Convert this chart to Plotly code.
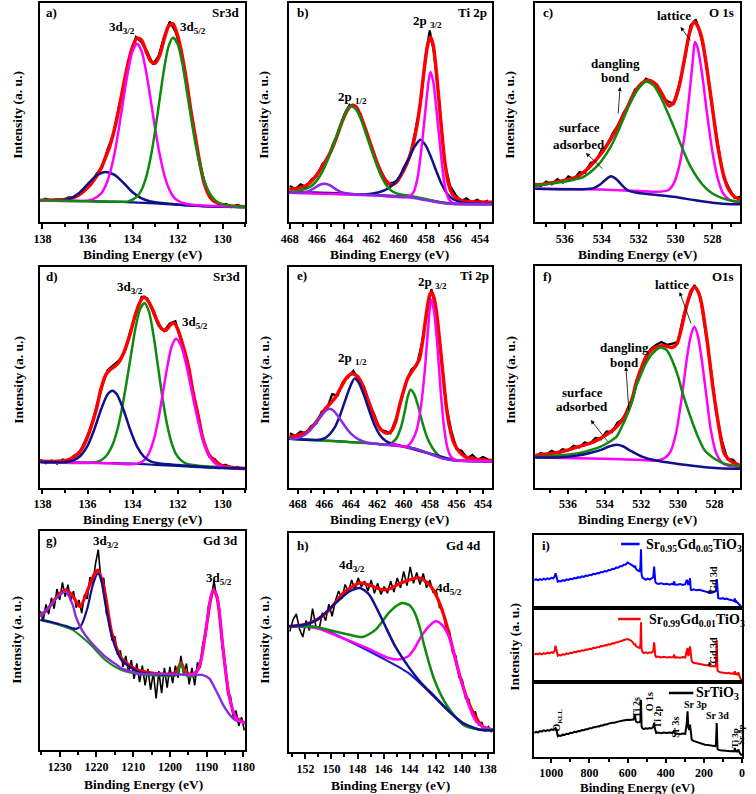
import plotly.graph_objects as go

W, H = 756, 794
FONT = "Liberation Serif"
RED = "#ff0000"; BLK = "#000000"; MAG = "#ff00ff"; GRN = "#0f8a0f"
NAV = "#10108c"; PUR = "#8a2be2"; BLU = "#0000ff"; BGB = "#1c1cd0"

# ---------------- panel a : Sr 3d (SrTiO3) ----------------
a_bg_x = [138.1, 137, 136, 135, 134, 133, 132, 131, 130, 129]
a_bg_y = [9.9, 9.8, 9.6, 9.3, 9.0, 8.5, 7.9, 7.3, 7.0, 6.8]
a_nav_x = [138.1, 137.2, 136.8, 136.4, 136.0, 135.6, 135.2, 134.8, 134.4, 134.0, 133.6, 133.2, 132.6, 131.0, 129.0]
a_nav_y = [9.9, 9.9, 10.6, 13.0, 17.2, 21.2, 22.8, 21.5, 17.8, 13.6, 10.8, 9.4, 8.6, 7.3, 6.8]
a_mag_x = [138.1, 136.2, 135.8, 135.4, 135.2, 135.0, 134.8, 134.6, 134.4, 134.2, 134.0, 133.8, 133.6,
           133.4, 133.2, 133.0, 132.8, 132.6, 132.4, 132.2, 132.0, 131.6, 131.0, 130.0, 129.0]
a_mag_y = [9.8, 9.6, 10.2, 13.0, 16.5, 22.5, 31.4, 43.2, 56.4, 68.9, 78.1, 81.4, 78.0,
           68.7, 56.1, 42.7, 31.0, 21.8, 15.5, 11.7, 9.8, 8.2, 7.6, 7.2, 7.0]
a_grn_x = [138.1, 134.6, 134.2, 133.8, 133.6, 133.4, 133.2, 133.0, 132.8, 132.6, 132.4, 132.2,
           132.0, 131.8, 131.6, 131.4, 131.2, 131.0, 130.8, 130.6, 130.4, 130.2, 129.8, 129.0]
a_grn_y = [9.9, 9.2, 9.4, 11.6, 14.7, 20.4, 29.3, 41.6, 56.0, 70.0, 80.3, 84.2,
           81.3, 72.9, 60.4, 47.4, 35.3, 25.5, 18.3, 13.5, 10.6, 8.9, 7.6, 7.0]
a_red_x = [138.1, 137.5, 137.0, 136.6, 136.2, 135.8, 135.4, 135.2, 135.0, 134.8, 134.6, 134.4,
           134.2, 134.0, 133.8, 133.6, 133.4, 133.2, 133.0, 132.8, 132.6, 132.4, 132.2, 132.0,
           131.8, 131.6, 131.4, 131.2, 131.0, 130.8, 130.6, 130.4, 130.0, 129.5, 129.0]
a_red_y = [9.9, 10.0, 10.3, 11.2, 13.8, 18.0, 24.5, 29.5, 35.0, 42.5, 52.0, 62.5,
           72.5, 80.0, 84.0, 83.0, 78.0, 73.5, 72.5, 76.0, 83.5, 89.5, 90.5, 85.0,
           76.0, 64.0, 50.0, 38.0, 26.0, 17.0, 12.0, 9.5, 7.8, 7.2, 7.0]
a_blk_x = [138.1, 137.85, 137.6, 137.35, 137.1, 136.85, 136.6, 136.35, 136.1, 135.85,
           135.6, 135.35, 135.1, 134.85, 134.6, 134.35, 134.1, 133.85, 133.6, 133.35,
           133.1, 132.85, 132.6, 132.35, 132.1, 131.85, 131.6, 131.35, 131.1, 130.85,
           130.6, 130.35, 130.1, 129.85, 129.6, 129.35, 129.1]
a_blk_y = [9.5, 10.6, 9.8, 10.4, 9.7, 11.2, 11.0, 12.9, 15.8, 17.0,
           22.0, 25.0, 33.5, 40.0, 53.0, 64.2, 77.0, 84.5, 82.0, 77.8,
           72.0, 75.8, 84.5, 91.5, 87.0, 79.0, 63.0, 48.0, 31.0, 20.0,
           11.5, 10.0, 7.5, 8.3, 6.8, 7.8, 6.9]

# ---------------- panel b : Ti 2p (SrTiO3) ----------------
b_bg_x = [468.05, 466, 464, 462, 460, 459, 458, 457, 456, 454, 453.1]
b_bg_y = [13.6, 13.3, 12.9, 12.4, 11.8, 11.4, 10.4, 9.2, 8.5, 8.3, 8.3]
b_pur_x = [468.05, 467.2, 466.6, 466.2, 465.8, 465.4, 465.0, 464.6, 464.2, 463.6, 462.0, 460.0,
           459.0, 458.0, 457.0, 456.0, 454.0, 453.1]
b_pur_y = [13.3, 13.4, 14.1, 15.5, 17.0, 17.5, 16.6, 14.9, 13.6, 12.9, 12.3, 11.6,
           11.1, 10.0, 8.9, 8.2, 8.0, 8.0]
b_grn_x = [468.05, 467.0, 466.4, 466.0, 465.6, 465.2, 464.8, 464.4, 464.0, 463.7, 463.5, 463.2,
           462.8, 462.4, 462.0, 461.6, 461.2, 460.8, 460.4, 460.0, 459.0, 458.0, 457.0, 456.0, 453.1]
b_grn_y = [13.6, 14.8, 16.5, 19.0, 23.0, 28.5, 35.0, 42.0, 48.5, 52.0, 52.8, 52.0,
           47.5, 40.5, 33.0, 26.0, 20.0, 16.0, 13.8, 12.8, 11.8, 10.5, 9.0, 8.3, 8.2]
b_nav_x = [468.05, 465.0, 462.5, 461.5, 461.0, 460.5, 460.0, 459.6, 459.2, 458.8, 458.4,
           458.0, 457.6, 457.2, 456.8, 456.4, 456.0, 455.5, 455.0, 454.0, 453.1]
b_nav_y = [13.6, 13.2, 12.6, 13.5, 14.5, 16.5, 20.0, 24.5, 29.5, 34.5, 37.6,
           35.0, 29.5, 23.0, 17.0, 12.8, 10.5, 9.2, 8.7, 8.4, 8.3]
b_mag_x = [468.05, 462.0, 459.6, 459.2, 458.9, 458.6, 458.3, 458.0, 457.8, 457.65, 457.45,
           457.2, 456.9, 456.6, 456.3, 456.0, 455.5, 453.1]
b_mag_y = [13.4, 12.2, 11.3, 11.8, 13.5, 20.0, 34.0, 52.0, 63.5, 68.5, 64.5,
           51.0, 32.5, 17.0, 10.5, 8.7, 8.3, 8.2]
b_red_x = [468.05, 467.5, 467.0, 466.6, 466.2, 465.8, 465.4, 465.0, 464.6, 464.2,
           463.9, 463.6, 463.4, 463.1, 462.8, 462.4, 462.0, 461.6, 461.2, 460.8,
           460.5, 460.2, 459.8, 459.4, 459.0, 458.7, 458.4, 458.1, 457.85, 457.65,
           457.45, 457.2, 456.9, 456.6, 456.3, 456.0, 455.5, 455.0, 454.0, 453.1]
b_red_y = [15.0, 15.3, 16.0, 17.5, 20.0, 23.5, 27.5, 32.0, 38.0, 45.0,
           49.5, 52.5, 53.3, 52.5, 48.5, 42.0, 34.5, 27.5, 21.5, 18.0,
           17.0, 17.8, 21.5, 26.5, 33.5, 42.0, 54.0, 70.0, 81.0, 84.5,
           81.0, 68.0, 47.0, 28.0, 17.0, 12.5, 10.2, 9.4, 9.1, 9.0]
b_blk_x = [468.0, 467.6, 467.2, 466.8, 466.4, 466.0, 465.6, 465.2, 464.8, 464.4,
           464.0, 463.6, 463.2, 462.8, 462.4, 462.0, 461.6, 461.2, 460.8, 460.4,
           460.0, 459.6, 459.2, 458.8, 458.4, 458.0, 457.7, 457.4, 457.0, 456.6,
           456.2, 455.8, 455.4, 455.0, 454.6, 454.2, 453.8, 453.4]
b_blk_y = [16.5, 15.0, 17.2, 16.0, 19.5, 21.0, 26.5, 29.0, 36.0, 41.0,
           49.0, 53.5, 52.0, 49.5, 41.0, 35.0, 27.0, 22.5, 17.5, 18.0,
           19.0, 25.0, 29.0, 40.5, 53.0, 76.0, 87.5, 78.0, 55.0, 27.0,
           16.5, 12.5, 9.5, 10.8, 9.0, 10.2, 8.8, 9.8]

# ---------------- panel c : O 1s (SrTiO3) ----------------
c_nav_x = [537.64, 535.0, 534.4, 534.1, 533.8, 533.5, 533.2, 532.9, 532.6, 532.0, 531.0, 530.0,
           529.0, 528.0, 527.0, 526.44]
c_nav_y = [15.2, 15.0, 15.6, 17.0, 19.2, 20.9, 19.5, 16.8, 14.5, 13.2, 12.3, 11.4,
           10.0, 8.8, 8.1, 8.1]
c_mag_x = [537.64, 534.0, 532.0, 531.0, 530.4, 530.1, 529.8, 529.5, 529.25, 529.05, 528.95,
           528.8, 528.55, 528.3, 528.0, 527.7, 527.4, 527.0, 526.44]
c_mag_y = [15.2, 14.8, 14.2, 13.8, 14.5, 17.5, 25.5, 40.0, 58.0, 75.0, 82.2,
           79.5, 67.0, 50.0, 32.0, 19.5, 12.8, 9.8, 9.1]
c_grn_x = [537.64, 536.5, 535.5, 535.0, 534.5, 534.0, 533.5, 533.0, 532.5, 532.0, 531.6, 531.2,
           530.8, 530.4, 530.0, 529.6, 529.2, 528.8, 528.4, 528.0, 527.5, 527.0, 526.44]
c_grn_y = [16.5, 17.8, 19.3, 20.5, 23.5, 28.0, 34.5, 43.5, 53.5, 61.0, 64.2, 62.5,
           57.0, 49.5, 41.5, 33.0, 25.5, 20.0, 15.8, 13.0, 11.0, 9.8, 9.1]
c_red_x = [537.64, 537.0, 536.0, 535.3, 534.8, 534.4, 534.0, 533.5, 533.0, 532.6,
           532.2, 531.8, 531.5, 531.2, 530.9, 530.6, 530.35, 530.1, 529.8, 529.5,
           529.25, 529.0, 528.8, 528.55, 528.3, 528.0, 527.7, 527.4, 527.1, 526.8, 526.44]
c_red_y = [16.7, 17.5, 19.0, 20.7, 24.0, 27.5, 31.5, 38.0, 45.5, 52.5,
           59.5, 63.5, 64.7, 63.8, 61.0, 56.5, 53.0, 54.5, 62.0, 75.0,
           86.0, 91.3, 89.5, 83.0, 70.0, 52.0, 34.0, 21.5, 14.5, 11.5, 10.2]
c_blk_x = [537.6, 537.3, 537.0, 536.7, 536.4, 536.1, 535.8, 535.5, 535.2, 534.9,
           534.6, 534.3, 534.0, 533.7, 533.4, 533.1, 532.8, 532.5, 532.2, 531.9,
           531.6, 531.3, 531.0, 530.7, 530.4, 530.1, 529.8, 529.5, 529.2, 528.9,
           528.6, 528.3, 528.0, 527.7, 527.4, 527.1, 526.8, 526.5]
c_blk_y = [17.5, 16.3, 18.5, 17.2, 19.6, 18.0, 20.8, 19.5, 22.8, 22.5,
           27.0, 28.0, 33.0, 35.0, 40.5, 44.5, 50.0, 54.0, 60.5, 62.0,
           65.5, 64.0, 62.8, 57.0, 55.0, 54.0, 63.0, 74.0, 89.5, 92.5,
           84.0, 71.0, 51.0, 35.5, 20.5, 15.5, 11.0, 11.5]

# ---------------- panel d : Sr 3d (Gd doped) ----------------
d_bg_x = [138.1, 136, 134, 133, 132, 131, 129]
d_bg_y = [11.8, 11.5, 11.0, 10.5, 10.0, 9.4, 8.8]
d_nav_x = [138.1, 137.0, 136.6, 136.3, 136.0, 135.7, 135.4, 135.1, 134.9, 134.7,
           134.4, 134.1, 133.8, 133.5, 133.2, 132.8, 132.0, 131.0, 130.0, 129.0]
d_nav_y = [11.8, 11.7, 12.6, 14.7, 19.1, 26.5, 35.5, 42.5, 44.0, 42.4,
           35.3, 26.2, 18.7, 14.2, 12.0, 11.1, 10.4, 9.6, 9.0, 8.8]
d_grn_x = [138.1, 135.87, 135.47, 135.27, 135.07, 134.87, 134.67, 134.47, 134.27, 134.07,
           133.87, 133.67, 133.47, 133.27, 133.07, 132.87, 132.67, 132.47, 132.27, 132.07,
           131.87, 131.67, 131.47, 131.07, 129.0]
d_grn_y = [11.8, 11.4, 12.2, 13.5, 15.9, 20.0, 26.6, 36.0, 47.6, 60.3,
           72.4, 80.9, 83.7, 79.7, 69.1, 54.9, 40.6, 28.8, 20.4, 15.3,
           12.7, 11.3, 10.6, 10.1, 8.8]
d_mag_x = [138.1, 135.0, 134.07, 133.67, 133.47, 133.27, 133.07, 132.87, 132.67, 132.47,
           132.27, 132.07, 131.87, 131.67, 131.47, 131.27, 131.07, 130.87, 130.67, 130.47,
           130.27, 129.87, 129.0]
d_mag_y = [11.8, 11.2, 10.7, 11.4, 12.7, 15.8, 21.4, 30.3, 42.0, 54.3,
           63.9, 67.5, 64.8, 58.1, 48.7, 38.6, 29.4, 21.8, 16.2, 12.6,
           10.7, 9.3, 8.8]
d_red_x = [138.1, 137.5, 137.0, 136.6, 136.3, 136.06, 135.8, 135.6, 135.4, 135.2,
           135.0, 134.8, 134.6, 134.34, 134.1, 133.9, 133.7, 133.5, 133.3, 133.1,
           132.9, 132.7, 132.5, 132.3, 132.15, 132.0, 131.75, 131.5, 131.32, 131.1,
           130.9, 130.6, 130.3, 130.0, 129.5, 129.0]
d_red_y = [12.1, 12.0, 12.3, 14.0, 17.0, 21.6, 29.0, 36.0, 45.0, 51.0,
           53.5, 55.0, 57.0, 62.5, 70.0, 77.6, 83.5, 86.4, 84.5, 80.5,
           75.5, 72.0, 71.5, 74.0, 74.6, 72.0, 64.0, 54.0, 43.5, 33.0,
           23.1, 15.0, 11.8, 10.0, 9.2, 8.8]
d_blk_x = [138.1, 137.85, 137.6, 137.35, 137.1, 136.85, 136.6, 136.35, 136.1, 135.85,
           135.6, 135.35, 135.1, 134.85, 134.6, 134.35, 134.1, 133.85, 133.6, 133.35,
           133.1, 132.85, 132.6, 132.35, 132.1, 131.85, 131.6, 131.35, 131.1, 130.85,
           130.6, 130.35, 130.1, 129.85, 129.6, 129.35, 129.1]
d_blk_y = [12.8, 11.2, 12.5, 11.0, 12.9, 12.0, 14.6, 15.9, 21.5, 27.0,
           37.0, 46.0, 53.5, 55.5, 57.8, 61.5, 71.0, 78.5, 86.5, 85.8,
           80.0, 73.5, 71.0, 74.5, 75.5, 66.5, 58.8, 44.5, 33.8, 21.0,
           14.2, 13.0, 10.2, 10.5, 9.0, 9.6, 8.5]

# ---------------- panel e : Ti 2p (Gd doped) ----------------
e_bg_x = [468.66, 466, 464, 462, 460, 459, 458, 457, 456, 454, 453.3]
e_bg_y = [22.3, 21.5, 20.8, 20.0, 18.8, 17.6, 15.5, 13.4, 12.5, 12.2, 12.1]
e_pur_x = [468.66, 468.0, 467.4, 467.0, 466.6, 466.2, 465.9, 465.6, 465.3, 465.0,
           464.6, 464.2, 463.8, 463.4, 462.8, 462.0, 460.0, 459.0, 458.0, 457.0, 456.0, 453.3]
e_pur_y = [22.3, 22.6, 24.3, 26.6, 29.6, 33.0, 35.0, 35.9, 35.0, 32.8,
           29.4, 26.0, 23.6, 22.0, 20.6, 19.9, 18.7, 17.5, 15.4, 13.3, 12.4, 12.0]
e_nav_x = [468.66, 466.6, 466.0, 465.6, 465.2, 464.8, 464.4, 464.0, 463.72, 463.4,
           463.0, 462.6, 462.2, 461.8, 461.4, 461.0, 460.0, 458.0, 456.0, 453.3]
e_nav_y = [22.3, 21.7, 22.5, 24.3, 27.5, 33.0, 40.0, 46.5, 49.5, 47.7,
           42.0, 35.0, 28.5, 24.0, 21.5, 20.3, 18.8, 15.5, 12.5, 12.1]
e_grn_x = [468.66, 462.0, 461.5, 461.0, 460.6, 460.2, 459.9, 459.7, 459.48, 459.2,
           458.9, 458.6, 458.2, 457.8, 457.4, 457.0, 456.5, 456.0, 453.3]
e_grn_y = [22.3, 20.0, 19.6, 20.1, 22.0, 27.5, 35.0, 41.0, 44.5, 42.5,
           37.0, 30.0, 22.5, 18.0, 15.0, 13.7, 12.8, 12.4, 12.1]
e_mag_x = [461.0, 460.0, 459.6, 459.3, 459.0, 458.7, 458.4, 458.15, 457.92, 457.7,
           457.45, 457.2, 456.95, 456.7, 456.4, 456.0, 455.0, 453.3]
e_mag_y = [20.2, 18.8, 19.5, 22.0, 26.5, 36.5, 53.0, 72.0, 85.2, 80.0,
           64.5, 44.0, 28.0, 18.5, 14.0, 12.6, 12.3, 12.1]
e_red_x = [468.66, 468.2, 467.8, 467.3, 466.8, 466.3, 465.9, 465.5, 465.1, 464.7,
           464.3, 463.9, 463.5, 463.1, 462.7, 462.3, 461.9, 461.5, 461.2, 460.9,
           460.6, 460.3, 460.0, 459.7, 459.4, 459.1, 458.8, 458.55, 458.3, 458.05,
           457.9, 457.7, 457.5, 457.25, 457.0, 456.75, 456.5, 456.2, 455.8, 455.3,
           454.8, 454.0, 453.3]
e_red_y = [23.1, 23.6, 24.3, 25.5, 28.5, 32.5, 36.0, 38.5, 41.5, 46.0,
           50.0, 51.7, 50.5, 46.5, 40.0, 33.5, 28.0, 25.3, 24.8, 26.0,
           30.0, 37.5, 44.0, 49.5, 52.5, 55.0, 58.5, 67.0, 78.0, 87.0,
           88.7, 86.0, 79.0, 65.0, 50.0, 36.0, 27.0, 20.5, 16.5, 14.0,
           13.3, 12.7, 12.5]
e_blk_x = [468.6, 468.2, 467.8, 467.4, 467.0, 466.6, 466.2, 465.8, 465.4, 465.0,
           464.6, 464.2, 463.8, 463.4, 463.0, 462.6, 462.2, 461.8, 461.4, 461.0,
           460.6, 460.2, 459.8, 459.4, 459.0, 458.6, 458.2, 457.9, 457.6, 457.2,
           456.8, 456.4, 456.0, 455.6, 455.2, 454.8, 454.4, 454.0, 453.6]
e_blk_y = [24.8, 23.5, 25.6, 24.6, 28.0, 29.2, 34.5, 36.0, 42.5, 41.8,
           48.0, 50.0, 53.0, 48.5, 46.0, 37.8, 33.0, 26.5, 25.8, 24.8,
           31.0, 39.0, 48.5, 53.8, 55.5, 66.0, 80.5, 90.0, 82.0, 63.0,
           38.0, 26.0, 17.8, 16.8, 13.5, 15.0, 12.8, 14.0, 12.9]

# ---------------- panel f : O 1s (Gd doped) ----------------
f_nav_x = [537.8, 536.4, 535.5, 534.8, 534.2, 533.8, 533.36, 533.0, 532.6, 531.93, 531.2, 530.14,
           529.2, 528.36, 527.5, 526.6]
f_nav_y = [13.7, 13.9, 14.6, 15.8, 17.2, 18.6, 19.5, 18.8, 16.8, 14.0, 12.4, 11.0,
           10.0, 9.2, 8.8, 8.7]
f_mag_x = [537.8, 534.0, 532.0, 531.4, 531.0, 530.7, 530.4, 530.1, 529.8, 529.5,
           529.3, 529.1, 528.9, 528.7, 528.45, 528.2, 527.9, 527.6, 527.3, 526.6]
f_mag_y = [13.7, 13.2, 12.6, 12.3, 12.6, 13.6, 16.5, 24.8, 40.2, 59.0,
           68.4, 72.6, 68.2, 58.0, 41.8, 26.0, 15.5, 11.5, 10.2, 9.5]
f_grn_x = [537.8, 536.4, 535.5, 534.8, 534.25, 533.8, 533.36, 533.1, 532.82, 532.5,
           532.29, 532.0, 531.75, 531.4, 530.95, 530.6, 530.32, 530.0, 529.79, 529.5,
           529.25, 528.9, 528.54, 528.0, 527.46, 527.0, 526.6]
f_grn_y = [14.0, 14.8, 15.6, 17.0, 18.5, 20.5, 23.0, 27.0, 32.0, 39.0,
           45.6, 51.5, 56.1, 60.5, 63.3, 62.0, 57.6, 50.5, 44.1, 36.5,
           30.5, 23.0, 17.0, 13.2, 11.0, 10.2, 9.8]
f_red_x = [537.8, 537.0, 536.4, 535.6, 534.6, 534.0, 533.36, 532.82, 532.5, 532.29,
           532.0, 531.75, 531.4, 531.04, 530.7, 530.32, 530.05, 529.79, 529.5, 529.25,
           529.07, 528.9, 528.71, 528.5, 528.36, 528.1, 527.82, 527.6, 527.46, 527.1, 526.6]
f_red_y = [14.7, 15.4, 16.2, 18.2, 20.8, 23.5, 27.5, 33.5, 40.0, 47.1,
           54.0, 59.1, 62.5, 63.9, 64.0, 63.3, 65.0, 72.6, 83.0, 89.2,
           90.4, 88.5, 83.2, 72.0, 63.6, 46.0, 30.5, 20.0, 15.5, 12.0, 10.2]
f_blk_x = [537.8, 537.5, 537.2, 536.9, 536.6, 536.3, 536.0, 535.7, 535.4, 535.1,
           534.8, 534.5, 534.2, 533.9, 533.6, 533.3, 533.0, 532.7, 532.4, 532.1,
           531.8, 531.5, 531.2, 530.9, 530.6, 530.3, 530.0, 529.7, 529.4, 529.1,
           528.8, 528.5, 528.2, 527.9, 527.6, 527.3, 527.0, 526.7]
f_blk_y = [14.0, 15.8, 15.0, 16.8, 15.7, 17.5, 16.9, 19.0, 18.2, 20.5,
           20.0, 22.5, 22.0, 25.5, 25.2, 29.5, 31.0, 37.0, 42.5, 52.5,
           57.0, 62.5, 64.5, 65.8, 64.5, 65.0, 66.0, 77.5, 85.0, 91.4,
           86.8, 71.0, 54.0, 33.5, 21.5, 13.0, 12.8, 10.0]

# ---------------- panel g : Gd 3d ----------------
g_red_x = [1235.3, 1233.0, 1230.5, 1228.4, 1226.5, 1224.5, 1222.0, 1220.5, 1219.6, 1218.0,
           1215.8, 1213.2, 1210.0, 1208.8, 1204.3, 1200.0, 1198.2, 1197.0, 1195.8, 1194.5,
           1193.4, 1192.0, 1190.2, 1188.8, 1188.2, 1187.2, 1185.7, 1184.0, 1182.2, 1179.5]
g_red_y = [60.9, 65.0, 70.5, 73.1, 70.5, 65.5, 74.6, 80.5, 82.2, 74.6,
           53.3, 41.9, 37.5, 36.5, 35.0, 34.8, 35.5, 39.9, 35.8, 34.6,
           34.8, 38.0, 54.8, 70.0, 73.1, 70.0, 48.7, 25.9, 15.2, 12.2]
g_nav_x = [1235.3, 1232.6, 1230.9, 1228.2, 1226.5, 1225.6, 1224.2, 1222.5, 1221.0, 1219.6,
           1218.7, 1217.6, 1215.8, 1213.2, 1210.5, 1208.8, 1204.3, 1200.0, 1198.0]
g_nav_y = [59.4, 58.6, 57.8, 56.6, 55.6, 55.3, 56.8, 64.5, 75.3, 80.7,
           77.6, 67.0, 51.7, 41.1, 37.5, 35.8, 34.6, 34.3, 34.2]
g_pur_x = [1235.3, 1233.0, 1230.5, 1228.4, 1226.5, 1225.6, 1224.0, 1222.0, 1220.0, 1217.6,
           1215.0, 1213.2, 1210.5, 1208.8, 1204.0, 1200.0, 1195.0, 1191.0, 1189.3, 1188.0,
           1186.6, 1185.3, 1184.0, 1182.2, 1179.5]
g_pur_y = [60.9, 65.0, 70.0, 72.3, 66.5, 60.9, 55.0, 50.2, 46.5, 42.6,
           39.5, 37.3, 35.8, 35.0, 34.7, 34.6, 34.4, 34.2, 32.7, 29.0,
           24.4, 20.0, 16.7, 13.7, 12.5]
g_grn_x = [1235.3, 1230.9, 1226.5, 1222.0, 1217.6, 1213.2, 1208.8, 1204.0, 1200.0, 1198.3,
           1197.6, 1197.0, 1196.4, 1195.8, 1194.6, 1193.2]
g_grn_y = [59.4, 57.5, 54.8, 48.7, 41.1, 36.5, 34.7, 34.0, 33.8, 34.2,
           36.5, 39.6, 36.5, 34.2, 33.5, 33.8]
g_mag_x = [1195.0, 1193.7, 1192.5, 1191.5, 1190.2, 1189.3, 1188.2, 1187.2, 1186.3, 1185.7,
           1184.8, 1184.0, 1183.0, 1182.2, 1181.0, 1179.5]
g_mag_y = [34.5, 34.7, 36.5, 41.0, 54.8, 66.0, 73.1, 70.5, 60.0, 48.7,
           36.0, 25.9, 19.0, 15.2, 13.3, 12.2]
g_blk_x = [1235.25, 1234.5, 1233.75, 1233.0, 1232.25, 1231.5, 1230.75, 1230.0, 1229.25, 1228.5,
           1227.75, 1227.0, 1226.25, 1225.5, 1224.75, 1224.0, 1223.25, 1222.5, 1221.75, 1221.0,
           1220.25, 1219.5, 1218.75, 1218.0, 1217.25, 1216.5, 1215.75, 1215.0, 1214.25, 1213.5,
           1212.75, 1212.0, 1211.25, 1210.5, 1209.75, 1209.0, 1208.25, 1207.5, 1206.75, 1206.0,
           1205.25, 1204.5, 1203.75, 1203.0, 1202.25, 1201.5, 1200.75, 1200.0, 1199.25, 1198.5,
           1197.75, 1197.0, 1196.25, 1195.5, 1194.75, 1194.0, 1193.25, 1192.5, 1191.75, 1191.0,
           1190.25, 1189.5, 1188.75, 1188.0, 1187.25, 1186.5, 1185.75, 1185.0, 1184.25, 1183.5,
           1182.75, 1182.0, 1181.25, 1180.5, 1179.75]
g_blk_y = [63.5, 59.0, 66.5, 62.0, 69.5, 64.5, 73.5, 68.5, 76.5, 70.0,
           75.5, 68.0, 72.5, 65.0, 68.5, 62.5, 71.0, 69.0, 79.0, 76.0,
           85.0, 91.5, 77.0, 78.5, 62.0, 60.5, 50.0, 52.0, 43.5, 45.5,
           38.0, 43.0, 35.5, 41.0, 32.5, 39.5, 31.0, 38.5, 29.5, 37.0,
           27.5, 35.5, 23.5, 36.0, 26.0, 37.5, 28.5, 38.0, 30.5, 38.5,
           33.0, 43.0, 34.0, 39.5, 30.0, 37.5, 29.5, 40.0, 37.5, 49.0,
           52.0, 66.0, 68.5, 77.5, 69.0, 64.5, 46.5, 40.5, 25.5, 24.5,
           14.5, 18.0, 11.0, 15.0, 9.0]

# ---------------- panel h : Gd 4d ----------------
h_red_x = [153.25, 152.0, 151.1, 150.4, 149.8, 149.1, 148.4, 147.8, 147.0, 146.1,
           145.5, 144.9, 144.35, 143.8, 143.35, 142.9, 142.36, 142.0, 141.6, 141.1,
           140.6, 140.2, 139.9, 139.5, 139.1, 138.7, 138.4, 137.58]
h_red_y = [57.4, 58.3, 60.5, 63.5, 67.5, 72.5, 75.5, 77.2, 76.0, 74.1,
           74.5, 76.5, 77.9, 79.0, 79.5, 78.5, 75.6, 72.0, 66.5, 57.0,
           45.2, 36.0, 30.0, 23.0, 17.8, 14.0, 11.7, 9.9]
h_bg_x = [153.25, 151.1, 148.6, 146.1, 144.1, 142.4, 141.1, 139.9, 138.6, 137.58]
h_bg_y = [57.4, 57.0, 50.5, 42.9, 36.1, 26.9, 19.3, 13.2, 10.2, 9.9]
h_nav_x = [153.25, 152.1, 151.1, 149.8, 148.6, 147.8, 147.1, 146.1, 145.1, 144.1,
           143.1, 142.1, 141.1, 139.9, 138.6, 137.58]
h_nav_y = [57.4, 58.1, 60.4, 67.3, 73.4, 74.9, 71.8, 60.4, 48.2, 39.1,
           31.5, 25.5, 19.3, 13.2, 10.2, 9.9]
h_grn_x = [153.25, 151.1, 149.8, 148.6, 147.6, 146.6, 145.6, 145.0, 144.55, 144.0,
           143.6, 143.2, 142.86, 142.1, 141.1, 139.9, 138.8, 137.58]
h_grn_y = [57.4, 57.0, 55.1, 53.5, 52.5, 55.9, 63.5, 66.8, 68.0, 67.0,
           63.5, 56.5, 48.2, 33.0, 20.9, 12.5, 10.4, 10.2]
h_mag_x = [153.25, 151.1, 149.8, 148.5, 147.3, 146.4, 145.6, 144.85, 144.1, 143.6,
           143.1, 142.5, 141.98, 141.5, 141.1, 140.7, 140.4, 140.0, 139.6, 139.2,
           138.9, 138.2, 137.58]
h_mag_y = [57.4, 56.5, 53.6, 50.5, 47.5, 45.0, 42.9, 42.2, 43.7, 47.5,
           52.8, 57.5, 59.7, 58.0, 54.3, 47.5, 40.6, 31.5, 23.9, 17.5,
           14.0, 11.0, 10.2]
h_blk_x = [153.2, 152.95, 152.7, 152.45, 152.2, 151.95, 151.7, 151.45, 151.2, 150.95,
           150.7, 150.45, 150.2, 149.95, 149.7, 149.45, 149.2, 148.95, 148.7, 148.45,
           148.2, 147.95, 147.7, 147.45, 147.2, 146.95, 146.7, 146.45, 146.2, 145.95,
           145.7, 145.45, 145.2, 144.95, 144.7, 144.45, 144.2, 143.95, 143.7, 143.45,
           143.2, 142.95, 142.7, 142.45, 142.2, 141.95, 141.7, 141.45, 141.2, 140.95,
           140.7, 140.45, 140.2, 139.95, 139.7, 139.45, 139.2, 138.95, 138.7, 138.45,
           138.2, 137.95, 137.7]
h_blk_y = [55.0, 60.5, 63.0, 56.0, 52.5, 60.0, 55.5, 65.5, 57.5, 56.0,
           63.5, 60.0, 67.5, 62.0, 69.0, 73.5, 70.0, 76.5, 73.0, 78.5,
           74.0, 79.5, 75.5, 78.0, 73.5, 78.5, 72.5, 77.0, 72.0, 75.5,
           72.5, 78.0, 73.0, 79.5, 75.0, 82.5, 76.0, 84.5, 77.0, 82.0,
           76.5, 81.5, 75.0, 78.5, 73.0, 73.5, 66.0, 65.0, 56.5, 55.5,
           45.5, 44.0, 34.0, 33.0, 24.5, 24.0, 17.0, 18.5, 12.5, 13.5,
           9.5, 11.5, 9.0]

# ---------------- panel i : survey spectra ----------------
survey_ev = [1090, 1080, 1070, 1060, 1050, 1040, 1030, 1020, 1010, 1000,
             990, 982, 978, 974, 970, 966, 960, 950, 940, 930,
             920, 910, 900, 890, 880, 870, 860, 850, 840, 830,
             820, 810, 800, 790, 780, 770, 760, 750, 740, 730,
             720, 710, 700, 690, 680, 670, 660, 650, 640, 630,
             620, 610, 600, 590, 580, 570, 564, 561, 557, 548,
             538, 533, 530, 527, 522, 515, 505, 495, 485, 475,
             466, 461, 458, 455, 450, 440, 425, 410, 395, 380,
             368, 360, 356, 352, 340, 325, 310, 298, 290, 286,
             282, 277, 273, 269, 264, 255, 240, 225, 210, 195,
             180, 165, 150, 141, 137, 133, 129, 125, 115, 100,
             90, 80, 70, 60, 50, 42, 38, 34, 30, 25,
             20, 15, 10, 5, 0]
survey_gd05 = [38.0, 39.5, 37.8, 39.6, 38.4, 40.2, 38.9, 40.6, 39.6, 41.3,
               40.5, 43.5, 47.7, 44.0, 38.0, 36.0, 37.0, 36.4, 38.2, 37.3,
               39.2, 38.4, 40.0, 39.4, 41.2, 40.5, 42.2, 41.6, 43.3, 42.6,
               44.4, 43.8, 45.5, 45.0, 46.8, 46.2, 48.0, 47.5, 49.3, 48.9,
               50.7, 50.2, 52.0, 51.8, 53.7, 53.4, 55.3, 55.2, 57.2, 57.2,
               59.3, 59.6, 62.3, 61.0, 59.8, 57.5, 55.5, 58.0, 54.0, 51.5,
               50.5, 56.0, 80.5, 46.0, 41.5, 40.0, 38.6, 40.2, 39.0, 40.5,
               42.0, 56.8, 45.0, 36.0, 34.1, 33.0, 34.0, 32.5, 33.3, 32.0,
               33.0, 32.5, 36.5, 32.0, 31.8, 32.8, 31.5, 32.5, 38.6, 33.0,
               31.5, 36.0, 40.9, 25.0, 24.5, 25.5, 24.2, 25.0, 24.0, 23.5,
               22.3, 20.5, 21.5, 22.7, 23.5, 39.5, 15.0, 13.6, 12.8, 13.5,
               12.2, 12.9, 11.6, 11.4, 10.5, 9.5, 13.0, 7.7, 9.1, 7.5,
               6.5, 5.0, 3.5, 1.8, 1.4]
survey_gd01 = [36.9, 38.3, 37.2, 38.6, 37.4, 39.0, 38.0, 39.6, 38.6, 40.2,
               39.5, 42.5, 49.1, 43.5, 37.5, 35.6, 36.4, 35.9, 37.4, 37.0,
               38.6, 38.0, 39.6, 39.2, 40.7, 40.3, 41.7, 41.4, 42.8, 42.4,
               43.8, 43.6, 45.0, 44.7, 46.1, 45.9, 47.3, 47.0, 48.5, 48.2,
               49.7, 49.5, 51.0, 50.8, 52.3, 52.2, 53.7, 53.7, 55.2, 55.4,
               56.8, 57.2, 58.1, 57.0, 55.5, 52.5, 50.0, 52.0, 48.5, 47.0,
               46.0, 50.0, 80.6, 44.5, 40.5, 39.0, 40.0, 39.0, 40.2, 39.5,
               41.5, 53.6, 43.0, 35.5, 33.8, 34.5, 33.2, 34.0, 33.0, 33.8,
               33.2, 34.0, 36.9, 33.0, 33.5, 32.8, 33.6, 33.0, 42.0, 45.9,
               35.0, 40.0, 48.2, 36.0, 28.0, 26.0, 25.0, 24.0, 23.8, 23.0,
               22.5, 21.2, 21.6, 21.0, 24.0, 56.3, 16.0, 14.4, 13.2, 12.5,
               12.8, 11.9, 12.3, 11.3, 11.7, 11.0, 14.5, 10.0, 12.0, 9.5,
               13.0, 7.0, 5.5, 3.4, 3.0]
survey_sto = [32.0, 33.5, 32.6, 34.6, 33.8, 35.6, 34.6, 36.0, 35.2, 36.8,
              36.0, 37.5, 38.7, 37.0, 30.5, 27.6, 28.5, 28.2, 29.8, 29.5,
              31.0, 30.8, 32.2, 32.0, 33.5, 33.2, 34.6, 34.5, 35.9, 35.7,
              37.0, 37.0, 38.4, 38.3, 39.6, 39.6, 40.8, 40.8, 42.0, 42.1,
              43.3, 43.4, 44.5, 44.6, 45.6, 45.8, 46.8, 47.0, 47.8, 48.2,
              49.0, 49.2, 49.8, 49.5, 49.8, 50.0, 53.0, 56.0, 47.5, 46.0,
              46.5, 48.0, 76.4, 40.5, 38.0, 37.5, 38.3, 37.6, 38.5, 38.0,
              40.0, 45.3, 38.5, 34.0, 32.0, 32.6, 31.8, 32.6, 32.0, 32.8,
              32.2, 33.5, 35.6, 31.5, 31.0, 30.5, 31.2, 30.8, 45.0, 60.9,
              40.0, 36.0, 43.1, 28.0, 23.1, 21.5, 20.0, 19.0, 17.5, 16.4,
              16.0, 15.2, 15.0, 14.5, 17.0, 45.3, 11.0, 9.8, 9.0, 8.5,
              8.8, 8.0, 8.3, 7.6, 7.9, 7.5, 12.0, 7.0, 9.0, 6.5,
              10.0, 5.5, 4.5, 3.1, 3.0]

# ---------------- figure ----------------
fig = go.Figure()


def add(n, x, y, color, width, smooth=True):
    s = "" if n == 1 else str(n)
    fig.add_trace(go.Scatter(
        x=x, y=y, mode="lines", xaxis="x" + s, yaxis="y" + s,
        line=dict(color=color, width=width, shape="spline" if smooth else "linear", smoothing=0.7),
        hoverinfo="skip", showlegend=False))


# a
add(1, a_blk_x, a_blk_y, BLK, 2.2, False)
add(1, a_red_x, a_red_y, RED, 3.5)
add(1, a_bg_x, a_bg_y, NAV, 2.2)
add(1, a_nav_x, a_nav_y, NAV, 2.5)
add(1, a_mag_x, a_mag_y, MAG, 2.5)
add(1, a_grn_x, a_grn_y, GRN, 2.5)
# b
add(2, b_blk_x, b_blk_y, BLK, 2.2, False)
add(2, b_red_x, b_red_y, RED, 3.5)
add(2, b_bg_x, b_bg_y, NAV, 2.2)
add(2, b_nav_x, b_nav_y, NAV, 2.5)
add(2, b_grn_x, b_grn_y, GRN, 2.5)
add(2, b_mag_x, b_mag_y, MAG, 2.5)
add(2, b_pur_x, b_pur_y, PUR, 2.5)
# c
add(3, c_blk_x, c_blk_y, BLK, 2.2, False)
add(3, c_red_x, c_red_y, RED, 3.5)
add(3, c_mag_x, c_mag_y, MAG, 2.5)
add(3, c_grn_x, c_grn_y, GRN, 2.5)
add(3, c_nav_x, c_nav_y, NAV, 2.5)
# d
add(4, d_blk_x, d_blk_y, BLK, 2.2, False)
add(4, d_red_x, d_red_y, RED, 3.5)
add(4, d_bg_x, d_bg_y, NAV, 2.2)
add(4, d_grn_x, d_grn_y, GRN, 2.5)
add(4, d_mag_x, d_mag_y, MAG, 2.5)
add(4, d_nav_x, d_nav_y, NAV, 2.5)
# e
add(5, e_blk_x, e_blk_y, BLK, 2.2, False)
add(5, e_red_x, e_red_y, RED, 3.5)
add(5, e_bg_x, e_bg_y, NAV, 2.2)
add(5, e_grn_x, e_grn_y, GRN, 2.5)
add(5, e_nav_x, e_nav_y, NAV, 2.5)
add(5, e_pur_x, e_pur_y, PUR, 2.5)
add(5, e_mag_x, e_mag_y, MAG, 2.5)
# f
add(6, f_blk_x, f_blk_y, BLK, 2.2, False)
add(6, f_red_x, f_red_y, RED, 3.5)
add(6, f_mag_x, f_mag_y, MAG, 2.5)
add(6, f_grn_x, f_grn_y, GRN, 2.5)
add(6, f_nav_x, f_nav_y, NAV, 2.5)
# g
add(7, g_blk_x, g_blk_y, BLK, 1.6, False)
add(7, g_red_x, g_red_y, RED, 3.2)
add(7, g_grn_x, g_grn_y, GRN, 2.0)
add(7, g_nav_x, g_nav_y, NAV, 2.2)
add(7, g_pur_x, g_pur_y, PUR, 2.4)
add(7, g_mag_x, g_mag_y, MAG, 2.5)
# h
add(8, h_blk_x, h_blk_y, BLK, 1.6, False)
add(8, h_red_x, h_red_y, RED, 3.2)
add(8, h_bg_x, h_bg_y, BGB, 2.2)
add(8, h_mag_x, h_mag_y, MAG, 2.5)
add(8, h_grn_x, h_grn_y, GRN, 2.5)
add(8, h_nav_x, h_nav_y, NAV, 2.5)
# i
add(9, survey_ev, survey_gd05, BLU, 2.0, False)
add(10, survey_ev, survey_gd01, RED, 2.0, False)
add(11, survey_ev, survey_sto, BLK, 2.0, False)

panels = [
    (1, (33, 243), (3, 222), [138.1, 129.0], 2, 1, True),
    (2, (288, 496), (3, 222), [468.05, 453.1], 2, 1, True),
    (3, (540, 750), (3, 222), [537.6, 526.5], 2, 1, True),
    (4, (33, 243), (267, 488), [138.1, 129.0], 2, 1, True),
    (5, (288, 496), (267, 488), [468.66, 453.3], 2, 1, True),
    (6, (540, 750), (266, 488), [537.8, 526.6], 2, 1, True),
    (7, (33, 243), (531, 750), [1235.3, 1179.5], 10, 5, True),
    (8, (288, 497), (533, 752), [153.25, 137.58], 2, 1, True),
    (9, (539, 752), (535, 608), [1090, 0], 200, 100, False),
    (10, (539, 752), (608, 682), [1090, 0], 200, 100, False),
    (11, (539, 752), (682, 757), [1090, 0], 200, 100, True),
]
for n, (x0, x1), (y0, y1), rng, dt, mdt, lab in panels:
    s = "" if n == 1 else str(n)
    fig.update_layout(**{
        "xaxis" + s: dict(
            domain=[x0 / W, x1 / W], range=rng, anchor="y" + s, dtick=dt, tick0=0,
            ticks="outside" if lab else "", ticklen=4 if n in (4, 5, 6, 11) else 5,
            tickwidth=1.5, tickcolor="black", showticklabels=lab,
            tickfont=dict(family=FONT, size=12, color="black", weight="bold"),
            minor=dict(dtick=mdt, tick0=0, ticks="outside" if lab else "", ticklen=3,
                       tickwidth=1.5, tickcolor="black", showgrid=False),
            showline=True, linewidth=2, linecolor="black", mirror=True,
            showgrid=False, zeroline=False, fixedrange=True),
        "yaxis" + s: dict(
            domain=[1 - y1 / H, 1 - y0 / H], range=[0, 100], anchor="x" + s,
            showticklabels=False, ticks="", showline=True, linewidth=2, linecolor="black",
            mirror=True, showgrid=False, zeroline=False, fixedrange=True),
    })


def ann(px, py, text, size=13, xa="center", angle=0):
    fig.add_annotation(x=px / W, y=1 - py / H, xref="paper", yref="paper", text=text,
                       showarrow=False, xanchor=xa, yanchor="middle", textangle=angle,
                       font=dict(family=FONT, size=size, color="black"))


def arrow(hx, hy, tx, ty):
    fig.add_annotation(x=hx / W, y=1 - hy / H, xref="paper", yref="paper", text="",
                       showarrow=True, ax=tx - hx, ay=ty - hy, arrowhead=2, arrowsize=1,
                       arrowwidth=0.8, arrowcolor="black")


# axis titles
for cx, cy, sz in [(137.5, 255, 13.5), (391, 255, 13.5), (645, 255, 13.5),
                   (137.5, 519, 13.5), (391, 519, 13.5), (645, 519, 13.5),
                   (139, 784, 13.5), (392, 785, 13.5), (645, 787.5, 13)]:
    ann(cx, cy, "<b>Binding Energy (eV)</b>", sz)
for cx, cy in [(10, 115), (262, 115), (514, 115), (10, 380), (262, 380), (514, 380),
               (8, 640), (262, 640), (518, 647)]:
    ann(cx, cy, "<b>Intensity (a. u.)</b>", 13.5, angle=-90)

# panel labels
for px, py, t in [(37, 12, "a)"), (294, 13, "b)"), (546, 13, "c)"), (37, 277, "d)"),
                  (294, 275, "e)"), (546, 277, "f)"), (37, 540, "g)"), (294, 545, "h)"),
                  (545, 545, "i)")]:
    ann(px, py, "<b>" + t + "</b>", 13, xa="left")
for px, py, t in [(240, 12, "Sr3d"), (493, 13, "Ti 2p"), (746, 13, "O 1s"), (241, 277, "Sr3d"),
                  (495, 275, "Ti 2p"), (746, 277, "O1s"), (238, 540, "Gd 3d"), (487, 545, "Gd 4d")]:
    ann(px, py, "<b>" + t + "</b>", 13, xa="right")

# peak labels
ann(117, 28, "<b>3d<sub>3/2</sub></b>")
ann(189, 28, "<b>3d<sub>5/2</sub></b>")
ann(430, 22, "<b>2p <sub>3/2</sub></b>")
ann(353, 98, "<b>2p <sub>1/2</sub></b>")
ann(682, 16, "<b>lattice</b>")
ann(622, 63, "<b>dangling</b>")
ann(622, 78, "<b>bond</b>")
ann(585, 128, "<b>surface</b>")
ann(585, 144, "<b>adsorbed</b>")
ann(125, 287, "<b>3d<sub>3/2</sub></b>")
ann(192, 322, "<b>3d<sub>5/2</sub></b>")
ann(435, 283, "<b>2p <sub>3/2</sub></b>")
ann(353, 358, "<b>2p <sub>1/2</sub></b>")
ann(680, 284, "<b>lattice</b>")
ann(632, 347, "<b>dangling</b>")
ann(632, 362, "<b>bond</b>")
ann(588, 392, "<b>surface</b>")
ann(588, 407, "<b>adsorbed</b>")
ann(100, 541, "<b>3d<sub>3/2</sub></b>")
ann(216, 578, "<b>3d<sub>5/2</sub></b>")
ann(352, 565, "<b>4d<sub>3/2</sub></b>")
ann(452, 588, "<b>4d<sub>5/2</sub></b>")

# arrows in c and f
arrow(689, 27, 700, 42)
arrow(627, 87, 625, 115)
arrow(592, 153, 610, 170)
arrow(688, 292, 700, 325)
arrow(633, 367, 636, 412)
arrow(597, 420, 615, 443)

# panel i legends and peak names
ann(652, 545, "<b>Sr<sub>0.95</sub>Gd<sub>0.05</sub>TiO<sub>3</sub></b>", 14, xa="left")
ann(655, 620, "<b>Sr<sub>0.99</sub>Gd<sub>0.01</sub>TiO<sub>3</sub></b>", 14, xa="left")
ann(703, 693, "<b>SrTiO<sub>3</sub></b>", 14, xa="left")
for x0, x1, py, col in [(628, 647, 544, BLU), (625, 648, 619, RED), (677, 702, 693, BLK)]:
    fig.add_shape(type="line", xref="paper", yref="paper", x0=x0 / W, x1=x1 / W,
                  y0=1 - py / H, y1=1 - py / H, line=dict(color=col, width=2.5))
ann(722, 579, "<b>Gd 3d</b>", 10, angle=-90)
ann(722, 650, "<b>Gd 3d</b>", 10, angle=-90)
arrow(717, 594, 721, 589)
arrow(717, 666, 721, 661)
ann(562, 720, "<b>O<sub>KLL</sub></b>", 10, angle=-90)
ann(643, 707, "<b>Ti 2s</b>", 10, angle=-90)
ann(657, 702, "<b>O 1s</b>", 10, angle=-90)
ann(665, 717, "<b>Ti 2p</b>", 10, angle=-90)
ann(683, 727, "<b>Sr 3s</b>", 10, angle=-90)
ann(704, 704, "<b>Sr 3p</b>", 10)
ann(727, 715, "<b>Sr 3d</b>", 10)
ann(745, 738, "<b>Ti 3p</b>", 9, angle=-90)
ann(751, 735, "<b>Sr 4p</b>", 9, angle=-90)

fig.update_layout(width=W, height=H, margin=dict(l=0, r=0, t=0, b=0),
                  paper_bgcolor="white", plot_bgcolor="white", showlegend=False)
fig.write_html("out.html", config={"displayModeBar": False},
               post_script="document.body.style.margin='0';document.body.style.padding='0';")
